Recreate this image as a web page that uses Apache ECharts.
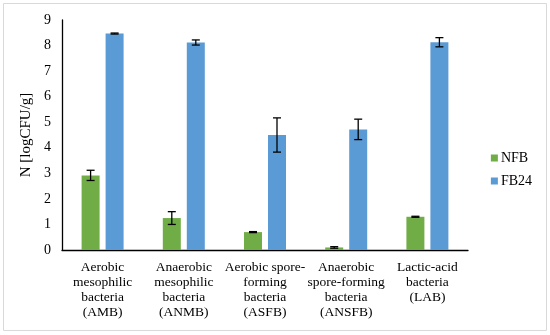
<!DOCTYPE html>
<html><head><meta charset="utf-8">
<script src="https://cdn.jsdelivr.net/npm/echarts@6/dist/echarts.min.js"></script>
<style>html,body{margin:0;padding:0;background:#fff}#c{width:550px;height:335px}</style>
</head><body><div id="c"></div>
<script>
var categories = ["Aerobic\nmesophilic\nbacteria\n(AMB)", "Anaerobic\nmesophilic\nbacteria\n(ANMB)", "Aerobic spore-\nforming\nbacteria\n(ASFB)", "Anaerobic\nspore-forming\nbacteria\n(ANSFB)", "Lactic-acid\nbacteria\n(LAB)"];
var nfb = [2.92, 1.25, 0.7, 0.1, 1.3];
var nfbErr = [0.2, 0.25, 0.02, 0.03, 0.02];
var fb24 = [8.47, 8.12, 4.5, 4.72, 8.13];
var fb24Err = [0.02, 0.1, 0.67, 0.4, 0.18];
var yTicks = [0, 1, 2, 3, 4, 5, 6, 7, 8, 9];

var BW = 18, GAP = 6;
function errSeries(vals, errs, side) {
  return {
    type: 'custom', z: 10, silent: true,
    data: vals.map(function (v, i) { return [i, v - errs[i], v + errs[i]]; }),
    renderItem: function (params, api) {
      var off = side * (BW + GAP) / 2;
      var lo = api.coord([api.value(0), api.value(1)]);
      var hi = api.coord([api.value(0), api.value(2)]);
      var x = lo[0] + off, c = 4;
      var st = { stroke: '#000', lineWidth: 1.3 };
      return { type: 'group', children: [
        { type: 'line', shape: { x1: x, y1: lo[1], x2: x, y2: hi[1] }, style: st },
        { type: 'line', shape: { x1: x - c, y1: lo[1], x2: x + c, y2: lo[1] }, style: st },
        { type: 'line', shape: { x1: x - c, y1: hi[1], x2: x + c, y2: hi[1] }, style: st }
      ]};
    }
  };
}
var font = 'Liberation Serif, Times New Roman, serif';
var chart = echarts.init(document.getElementById('c'));
chart.setOption({
  animation: false,
  graphic: [{ type: 'rect', shape: { x: 3.5, y: 3.5, width: 543, height: 327 }, style: { fill: 'none', stroke: '#d9d9d9', lineWidth: 1 } }],
  grid: { left: 62, right: 82, top: 20, bottom: 85 },
  legend: {
    orient: 'vertical', right: 13, top: 146, itemWidth: 7, itemHeight: 7, itemGap: 9,
    icon: 'rect', textStyle: { fontFamily: font, fontSize: 14, color: '#000', padding: [0, 0, 0, -2] },
    data: ['NFB', 'FB24']
  },
  xAxis: {
    type: 'category', data: categories,
    axisLine: { lineStyle: { color: '#000', width: 1.3 } },
    axisTick: { show: false },
    axisLabel: { interval: 0, fontFamily: font, fontSize: 13.5, color: '#000', lineHeight: 15, margin: 10 }
  },
  yAxis: {
    type: 'value', min: 0, max: 9, interval: 1,
    name: 'N [logCFU/g]', nameLocation: 'middle', nameGap: 19,
    nameTextStyle: { fontFamily: font, fontSize: 15, color: '#000' },
    axisLine: { show: true, lineStyle: { color: '#000', width: 1.3 } },
    axisTick: { show: false },
    splitLine: { show: false },
    axisLabel: { fontFamily: font, fontSize: 14, color: '#000', margin: 11,
      formatter: function (v) { return yTicks.indexOf(v) >= 0 ? String(v) : ''; } }
  },
  series: [
    { name: 'NFB', type: 'bar', data: nfb, barWidth: BW, barGap: (GAP / BW * 100) + '%', itemStyle: { color: '#70AD47' } },
    { name: 'FB24', type: 'bar', data: fb24, barWidth: BW, itemStyle: { color: '#5B9BD5' } },
    errSeries(nfb, nfbErr, -1),
    errSeries(fb24, fb24Err, 1)
  ]
});
</script></body></html>
